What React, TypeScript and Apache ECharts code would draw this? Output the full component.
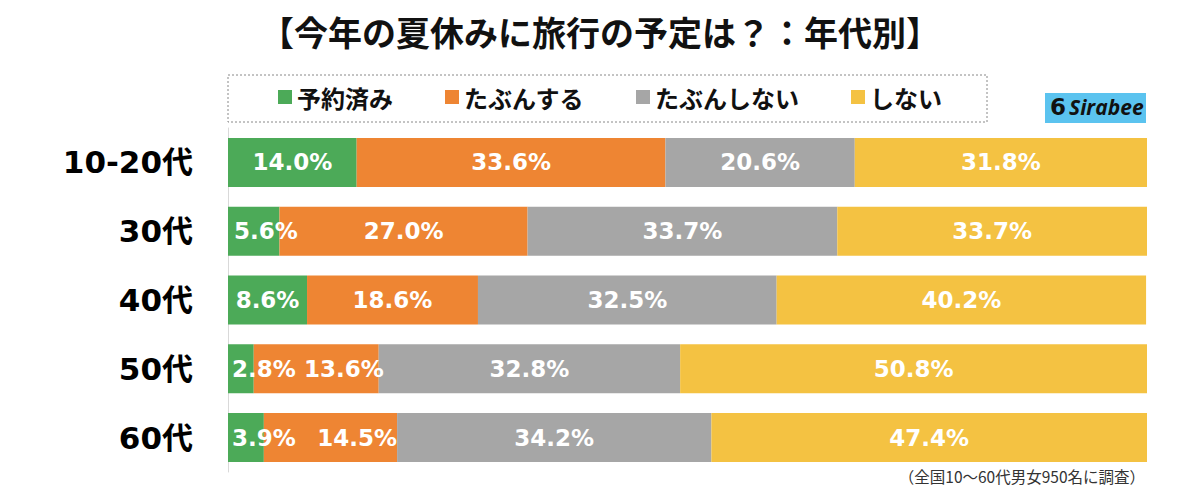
import React, { useEffect, useRef } from "react";
import * as echarts from "echarts";

const categories = ["10-20代", "30代", "40代", "50代", "60代"];
const seriesNames = ["予約済み", "たぶんする", "たぶんしない", "しない"];
const reserved = [14.0, 5.6, 8.6, 2.8, 3.9];
const probablyYes = [33.6, 27.0, 18.6, 13.6, 14.5];
const probablyNo = [20.6, 33.7, 32.5, 32.8, 34.2];
const no = [31.8, 33.7, 40.2, 50.8, 47.4];
const titleText = "【今年の夏休みに旅行の予定は？：年代別】";
const noteText = "（全国10～60代男女950名に調査）";

const colors = ["#4CAA58", "#EE8533", "#A6A6A6", "#F4C242"];

// label placement overrides: [seriesIndex][rowIndex]
const labelOverrides: Record<string, any> = {
  "0-1": { position: "insideLeft", distance: 6 },
  "0-3": { position: "insideLeft", distance: 4 },
  "0-4": { position: "insideLeft", distance: 4 },
  "1-3": { position: "insideRight", offset: [10, 0] },
  "1-4": { position: "insideRight", distance: 0 },
};

const FONT = "'Noto Sans CJK JP', 'Noto Sans', sans-serif";
const NUMFONT = "'DejaVu Sans', 'Noto Sans CJK JP', sans-serif";

export default function App() {
  const ref = useRef<HTMLDivElement>(null);
  useEffect(() => {
    if (!ref.current) return;
    const chart = echarts.init(ref.current, null, { renderer: "svg" });
    const all = [reserved, probablyYes, probablyNo, no];
    const series = all.map((vals, si) => ({
      name: seriesNames[si],
      type: "bar",
      stack: "total",
      barWidth: 49,
      itemStyle: { color: colors[si] },
      label: {
        show: true,
        position: "inside",
        color: "#fff",
        fontSize: 23,
        fontWeight: "bold",
        fontFamily: NUMFONT,
        formatter: (p: any) => p.value.toFixed(1) + "%",
      },
      data: vals.map((v, ri) => {
        const o = labelOverrides[`${si}-${ri}`];
        return o ? { value: v, label: o } : { value: v };
      }),
    }));
    chart.setOption({
      animation: false,
      textStyle: { fontFamily: FONT },
      title: {
        text: titleText,
        left: "center",
        top: 9,
        textStyle: { fontSize: 34, fontWeight: "bold", color: "#111", fontFamily: FONT },
      },
      legend: {
        data: seriesNames,
        top: 80,
        left: 273,
        icon: "rect",
        itemWidth: 14,
        itemHeight: 14,
        itemGap: 52,
        textStyle: { fontSize: 24, fontWeight: "bold", color: "#111", fontFamily: FONT },
      },
      grid: { left: 228, right: 53, top: 128, height: 344, containLabel: false },
      xAxis: { type: "value", min: 0, max: 100, show: false },
      yAxis: {
        type: "category",
        data: categories,
        inverse: true,
        axisLine: { show: true, lineStyle: { color: "#d9d9d9", width: 1 } },
        axisTick: { show: false },
        axisLabel: {
          fontSize: 31,
          fontWeight: "bold",
          color: "#000",
          margin: 35,
          fontFamily: NUMFONT,
        },
      },
      graphic: [
        {
          type: "rect",
          shape: { x: 228, y: 75, width: 759, height: 47 },
          style: { fill: "none", stroke: "#888", lineWidth: 1, lineDash: [2, 2] },
        },
        {
          type: "rect",
          shape: { x: 1045, y: 93, width: 101, height: 30 },
          style: { fill: "#5BC3EF" },
        },
        {
          type: "text",
          x: 1050,
          y: 95,
          style: { text: "6", fontSize: 23, fontWeight: "bold", fill: "#111", fontFamily: NUMFONT },
        },
        {
          type: "text",
          x: 1069,
          y: 96,
          style: {
            text: "Sirabee",
            fontSize: 21,
            fontWeight: "bold",
            fontStyle: "italic",
            fill: "#111",
            fontFamily: "'Open Sans', 'Noto Sans', sans-serif",
          },
        },
        {
          type: "text",
          right: 55,
          top: 468,
          style: { text: noteText, fontSize: 15.5, fill: "#333", fontFamily: FONT },
        },
      ],
      series,
    });
    return () => chart.dispose();
  }, []);
  return <div ref={ref} style={{ width: 1200, height: 494, margin: -8 }} />;
}
